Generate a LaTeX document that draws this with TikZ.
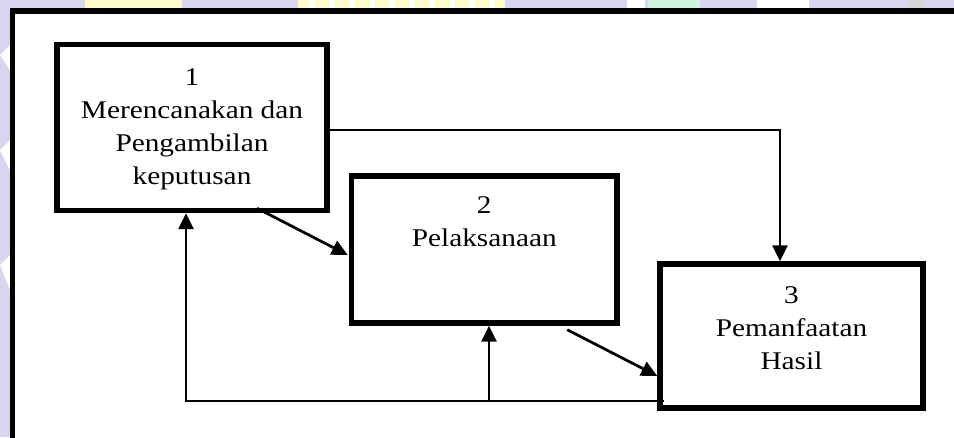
\documentclass[tikz,border=0pt]{standalone}
\usepackage{fontspec}
\setmainfont[FakeStretch=1.15]{Liberation Serif}
\usetikzlibrary{arrows.meta,calc}
\definecolor{wmlav}{HTML}{D9D5EF}
\definecolor{wmyel}{HTML}{FFFBC9}
\definecolor{wmgrn}{HTML}{CDF5DF}
\definecolor{wmgry}{HTML}{D6D6D6}
\begin{document}
\begin{tikzpicture}[x=0.02cm,y=-0.02cm,
  box/.style={draw, line width=0.11cm, inner sep=0pt},
  lbl/.style={align=center, anchor=north, inner sep=0pt,
              font=\fontsize{14.5}{18.8}\selectfont},
  arr/.style={line width=0.055cm, -{Triangle[length=0.32cm,width=0.30cm]}},
  frame/.style={line width=0.12cm}]
\clip (0,0) rectangle (954,437);
\fill[white] (0,0) rectangle (954,437);

% faint background logo showing outside the frame
\fill[wmlav] (0,0) rectangle (954,8);
\fill[wmlav] (0,0) rectangle (10,437);
\fill[wmyel] (85,0) rectangle (182,8);
\fill[wmyel] (298,0) rectangle (505,8);
\foreach \s in {310,330,350,370,390,410,430,450,470,490}
  \fill[white] (\s,0) rectangle ++(5,8);
\fill[white] (627,0) rectangle (645,8);
\fill[wmgrn] (648,0) rectangle (700,8);
\fill[white] (757,0) rectangle (809,8);
\fill[wmgry] (909,0) rectangle (925,8);
\fill[white] (0,55) -- (10,45) -- (10,70) -- cycle;
\fill[white] (0,150) -- (10,140) -- (10,170) -- cycle;
\fill[white] (0,265) -- (10,255) -- (10,290) -- cycle;

% outer frame (top and left edges)
\draw[frame] (12.5,470) -- (12.5,11) -- (990,11);

% process boxes
\node[box, minimum width=5.40cm, minimum height=3.32cm] (b1) at (192,127.5) {};
\node[box, minimum width=5.31cm, minimum height=2.94cm] (b2) at (484.25,249.5) {};
\node[box, minimum width=5.26cm, minimum height=2.88cm] (b3) at (791.5,336) {};

\node[lbl] (t1) at ($(b1.north)+(0,20)$) {\strut 1\\Merencanakan dan\\Pengambilan\\keputusan};
\node[lbl] (t2) at ($(b2.north)+(0,16.5)$) {\strut 2\\Pelaksanaan};
\node[lbl] (t3) at ($(b3.north)+(0,18.5)$) {\strut 3\\Pemanfaatan\\Hasil};

% forward flow
\draw[arr] ($(b1.east)+(0,2.5)$) -| ($(b3.north)+(-11.5,0)$);
\draw[arr] ($(b1.south)+(65,-5)$) -- ($(b2.west)+(-1,5.5)$);
\draw[arr] ($(b2.south)+(83,4)$) -- ($(b3.west)+(0,40)$);

% feedback
\coordinate (fb) at ($(b3.west)+(6.75,65)$);
\path ($(b2.south)+(4.75,0)$) coordinate (b2in);
\coordinate (j) at (b2in |- fb);
\draw[arr] (fb) -| ($(b1.south)+(-6,0)$);
\draw[arr] (j) -- (b2in);
\end{tikzpicture}
\end{document}
